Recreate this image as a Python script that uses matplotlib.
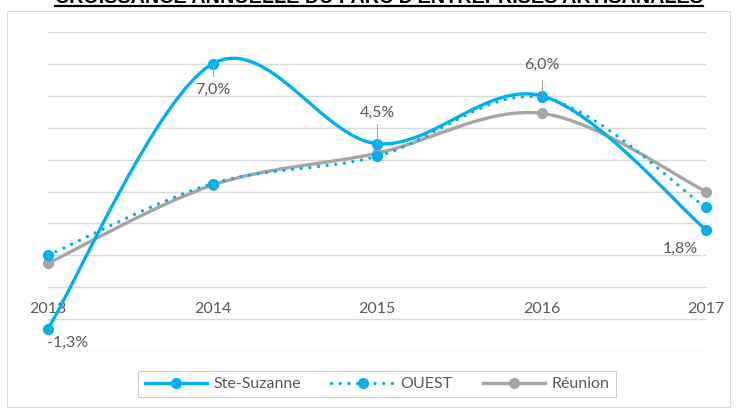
import matplotlib.pyplot as plt
from matplotlib.path import Path
from matplotlib.patches import PathPatch, Rectangle
from matplotlib.lines import Line2D

plt.rcParams['font.family'] = ['Lato', 'DejaVu Sans']

years = [2013, 2014, 2015, 2016, 2017]
ste_suzanne = [-1.3, 7.0, 4.5, 6.0, 1.8]
ouest = [1.0, 3.25, 4.1, 5.95, 2.5]
reunion = [0.75, 3.2, 4.2, 5.45, 3.0]
ste_labels = ['-1,3%', '7,0%', '4,5%', '6,0%', '1,8%']

BLUE = '#00B0F0'
GREY = '#A5A5A5'
TXT = '#595959'
FS = 11.5
DOTS = (0, (0.01, 2.6))


def smooth_path(xs, ys):
    # Bezier segments with Catmull-Rom style control points (office "smoothed line")
    pts = list(zip(xs, ys))
    verts = [pts[0]]
    codes = [Path.MOVETO]
    n = len(pts)
    for i in range(n - 1):
        p0 = pts[i - 1] if i > 0 else pts[i]
        p1 = pts[i]
        p2 = pts[i + 1]
        p3 = pts[i + 2] if i + 2 < n else pts[i + 1]
        c1 = (p1[0] + (p2[0] - p0[0]) / 6, p1[1] + (p2[1] - p0[1]) / 6)
        c2 = (p2[0] - (p3[0] - p1[0]) / 6, p2[1] - (p3[1] - p1[1]) / 6)
        verts += [c1, c2, p2]
        codes += [Path.CURVE4] * 3
    return Path(verts, codes)


fig = plt.figure(figsize=(7.36, 4.08), dpi=100)
W, H = 736, 408

# outer chart frame
fig.add_artist(Rectangle((7 / W, 1 - 407 / H), 723 / W, 396 / H, transform=fig.transFigure,
                         fill=False, edgecolor='#D9D9D9', linewidth=0.8))

ax = fig.add_axes([48 / W, (H - 351) / H, (706 - 48) / W, (351 - 32) / H])
ax.set_xlim(2013, 2017)
ax.set_ylim(-2, 8)
ax.patch.set_alpha(0)

ax.set_yticks(range(-2, 9))
ax.yaxis.grid(True, color='#D9D9D9', linewidth=1.0)
ax.set_axisbelow(True)
ax.tick_params(axis='y', left=False, labelleft=False)
for s in ['top', 'right', 'left']:
    ax.spines[s].set_visible(False)
ax.spines['bottom'].set_position(('data', 0))
ax.spines['bottom'].set_color('#D9D9D9')
ax.set_xticks(years)
ax.set_xticklabels([str(y) for y in years])
ax.tick_params(axis='x', length=0, pad=11, labelsize=FS, labelcolor=TXT)

series = [
    (reunion, GREY, '-', 'Réunion'),
    (ouest, BLUE, DOTS, 'OUEST'),
    (ste_suzanne, BLUE, '-', 'Ste-Suzanne'),
]
for vals, col, ls, name in series:
    patch = PathPatch(smooth_path(years, vals), facecolor='none', edgecolor=col,
                      linewidth=2.4, linestyle=ls, capstyle='round', zorder=3)
    ax.add_patch(patch)
    ax.plot(years, vals, linestyle='none', marker='o', markersize=7,
            color=col, zorder=4, clip_on=False)

# data labels for Ste-Suzanne
label_pos = [(20, -14), (0, -26), (0, 31), (0, 31), (-26, -19)]
for x, v, txt, (dx, dy) in zip(years, ste_suzanne, ste_labels, label_pos):
    ax.annotate(txt, (x, v), xytext=(dx, dy), textcoords='offset pixels',
                ha='center', va='center', fontsize=FS, color=TXT, zorder=5)
# leader lines
for x, v, y0, y1 in [(2014, 7.0, -1, -12), (2015, 4.5, 2, 20), (2016, 6.0, 2, 16)]:
    ax.plot([x, x], [v + y0 / 32, v + y1 / 32], color='#A5A5A5', linewidth=0.8, zorder=5)

handles = [
    Line2D([], [], color=BLUE, linewidth=2.4, marker='o', markersize=7),
    Line2D([], [], color=BLUE, linewidth=2.4, linestyle=DOTS, marker='o',
           markersize=7, dash_capstyle='round'),
    Line2D([], [], color=GREY, linewidth=2.4, marker='o', markersize=7),
]
leg = fig.legend(handles, ['Ste-Suzanne', 'OUEST', 'Réunion'], loc='center',
                 bbox_to_anchor=(377 / W, 1 - 384 / H), ncol=3, fontsize=FS,
                 frameon=True, fancybox=False, handlelength=3.9, handletextpad=0.4,
                 columnspacing=1.9, borderpad=0.4, borderaxespad=0, labelcolor=TXT)
leg.get_frame().set_edgecolor('#BFBFBF')
leg.get_frame().set_linewidth(0.8)

# title, partly above the top edge
title = fig.text(379 / W, 1 - 3 / H, "CROISSANCE ANNUELLE DU PARC D'ENTREPRISES ARTISANALES",
                 ha='center', va='baseline', fontsize=14.2, fontweight='bold',
                 family='Liberation Sans', color='black')
fig.canvas.draw()
bb = title.get_window_extent()
fig.add_artist(Line2D([bb.x0 / W, bb.x1 / W], [1 - 5.5 / H, 1 - 5.5 / H],
                      transform=fig.transFigure, color='black', linewidth=1.6))

fig.savefig('out.png', dpi=100)
